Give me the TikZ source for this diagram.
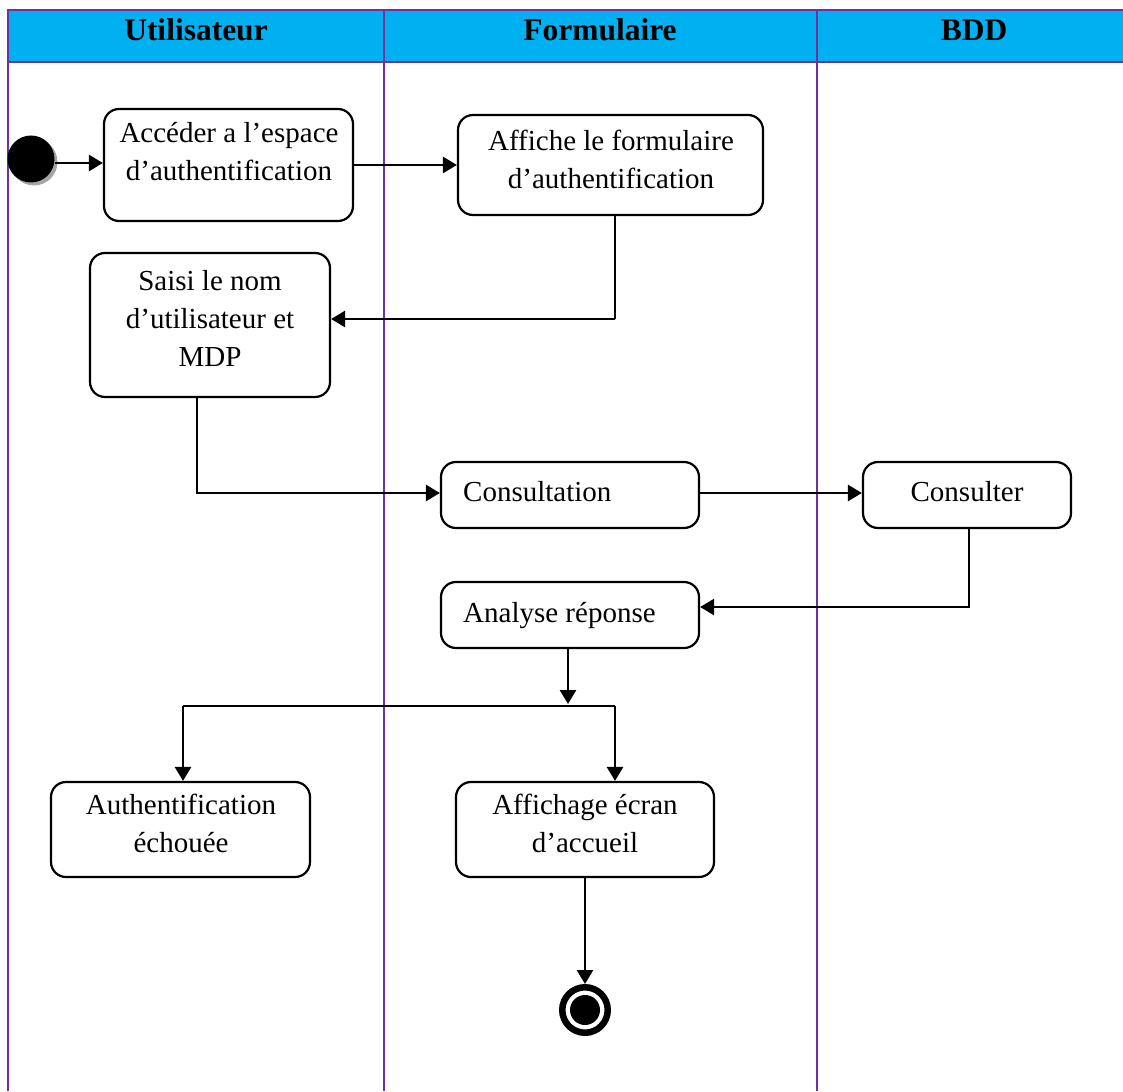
\documentclass[tikz,border=0pt]{standalone}
\usepackage{fontspec}
\setmainfont{Liberation Serif}
\usetikzlibrary{arrows.meta,shadows}
\definecolor{lanecyan}{HTML}{00B0F0}
\definecolor{lanepurple}{HTML}{7030A0}
\begin{document}
\begin{tikzpicture}[x=1pt,y=-1pt,
  lane/.style={draw=lanepurple,line width=2.2pt},
  actbox/.style={draw=black,line width=2.2pt,rounded corners=15pt,inner sep=0pt},
  lbl/.style={inner sep=0pt,align=center,font=\fontsize{29}{38}\selectfont},
  head/.style={inner sep=0pt,font=\fontsize{31.5}{36}\selectfont\bfseries},
  flow/.style={draw=black,line width=2.7pt,-{Triangle[length=14pt,width=16pt]}},
  link/.style={draw=black,line width=2.7pt},
  thinlink/.style={draw=black,line width=1.1pt},
]
\useasboundingbox (0,0) rectangle (1123,1091);

% swimlane frame and header band
\fill[lanecyan] (8,10) rectangle (1123,62);
\draw[lane] (8,1091) -- (8,10) -- (1123,10);
\draw[lane] (8,62) -- (1123,62);
\draw[lane] (384,10) -- (384,1091);
\draw[lane] (817,10) -- (817,1091);

\node[head, anchor=base] (hU) at (196,41) {Utilisateur};
\node[head, anchor=base] (hF) at (600,41) {Formulaire};
\node[head, anchor=base] (hB) at (974,41) {BDD};

% initial and final states
\node[circle, fill=black, minimum size=47pt, inner sep=0pt,
      drop shadow={shadow xshift=3pt, shadow yshift=-3pt, fill=black!35, opacity=1}] (start) at (31,159) {};
\node[circle, draw=black, line width=6.5pt, minimum size=45.5pt, inner sep=0pt] (end) at (585,1010) {};
\fill[black] (end.center) circle (15pt);

% activities
\node[actbox, minimum width=249pt, minimum height=112pt] (a1) at (228.5,165) {};
\node[lbl] (a1t) at (229,151.6) {Accéder a l’espace\\d’authentification};

\node[actbox, minimum width=305pt, minimum height=100pt] (f1) at (610.5,165) {};
\node[lbl] (f1t) at (611,159) {Affiche le formulaire\\d’authentification};

\node[actbox, minimum width=240pt, minimum height=144pt] (s) at (210,325) {};
\node[lbl] (st) at (210,318) {Saisi le nom\\d’utilisateur et\\MDP};

\node[actbox, minimum width=258pt, minimum height=66pt] (c) at (570,495) {};
\node[lbl, anchor=base west] (ct) at (463,501) {Consultation};

\node[actbox, minimum width=208pt, minimum height=66pt] (d) at (967,495) {};
\node[lbl, anchor=base] (dt) at (967,501) {Consulter};

\node[actbox, minimum width=258pt, minimum height=66pt] (r) at (570,615) {};
\node[lbl, anchor=base west] (rt) at (463,622) {Analyse réponse};

\node[actbox, minimum width=259pt, minimum height=95pt] (ae) at (180.5,829.5) {};
\node[lbl] (aet) at (181,823) {Authentification\\échouée};

\node[actbox, minimum width=258pt, minimum height=95pt] (af) at (585,829.5) {};
\node[lbl] (aft) at (585,823) {Affichage écran\\d’accueil};

% control flow
\draw[flow] ([yshift=-4pt]start.east) -- ([yshift=-4pt]start.east -| a1.west);
\draw[flow] (a1.east) -- (f1.west);

\coordinate (k1) at (615,319);
\draw[thinlink] (f1.south -| k1) -- (k1);
\draw[flow] (k1) -- (k1 -| s.east);

\coordinate (k2) at (197,493);
\draw[flow] (s.south -| k2) |- (c.west |- k2);
\draw[flow] (c.east |- k2) -- (d.west |- k2);

\coordinate (k3) at (969,607);
\draw[flow] (d.south -| k3) |- (r.east |- k3);

\coordinate (fk) at (568,706);
\coordinate (fl) at (183,706);
\coordinate (fr) at (615,706);
\draw[flow] (r.south -| fk) -- ([yshift=2pt]fk);
\draw[link] (fl) -- (fr);
\draw[flow] (fl) -- (ae.north -| fl);
\draw[flow] (fr) -- (af.north -| fr);
\draw[flow] (af.south) -- (end.north);
\end{tikzpicture}
\end{document}
